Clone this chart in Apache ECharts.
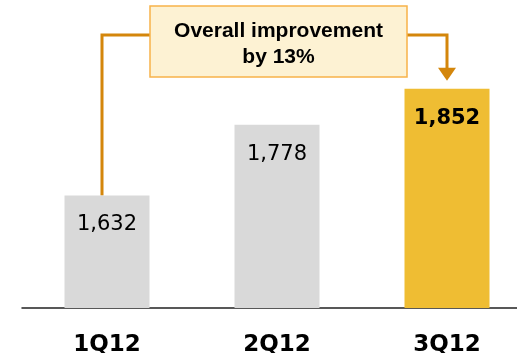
<!DOCTYPE html>
<html><head><meta charset="utf-8">
<script src="https://cdn.jsdelivr.net/npm/echarts@6/dist/echarts.min.js"></script>
<style>html,body{margin:0;padding:0;background:#fff}#c{width:517px;height:353px}</style>
</head><body><div id="c"></div>
<script>
const categories = ['1Q12', '2Q12', '3Q12'];
const values = [1632, 1778, 1852];
const barColors = ['#D9D9D9', '#D9D9D9', '#EFBD33'];
const boldLabel = [false, false, true];
const note = ['Overall improvement', 'by 13%'];

const chart = echarts.init(document.getElementById('c'));
const option = {
  animation: false,
  grid: { left: 22, width: 510, top: 17, bottom: 45, containLabel: false, outerBoundsMode: 'none' },
  xAxis: {
    type: 'category', data: categories,
    axisLine: { lineStyle: { color: '#222', width: 1.5 } },
    axisTick: { show: false },
    axisLabel: { margin: 26, fontFamily: 'DejaVu Sans', fontWeight: 'bold', fontSize: 23, color: '#000' }
  },
  yAxis: { type: 'value', min: 1400, max: 2000, show: false, splitLine: { show: false } },
  series: [{
    type: 'bar', barWidth: 85,
    data: values.map((v, i) => ({
      value: v,
      itemStyle: { color: barColors[i] },
      label: {
        show: true, position: 'insideTop', distance: 19,
        formatter: p => p.value.toLocaleString('en-US'),
        fontFamily: 'DejaVu Sans', fontSize: 21, color: '#000',
        fontWeight: boldLabel[i] ? 'bold' : 'normal'
      }
    }))
  }]
};
chart.setOption(option);

const p0 = chart.convertToPixel({ gridIndex: 0 }, [0, values[0]]);
const p2 = chart.convertToPixel({ gridIndex: 0 }, [2, values[2]]);
const lineColor = '#D4860B';
const boxL = 150, boxR = 407, boxT = 6, boxB = 77, lineY = 35;
chart.setOption({
  graphic: [
    { type: 'polyline', shape: { points: [[boxL, lineY], [p0[0] - 5, lineY], [p0[0] - 5, p0[1]]] },
      style: { stroke: lineColor, lineWidth: 3, fill: null } },
    { type: 'polyline', shape: { points: [[boxR, lineY], [p2[0], lineY], [p2[0], p2[1] - 20]] },
      style: { stroke: lineColor, lineWidth: 3, fill: null } },
    { type: 'polygon', shape: { points: [[p2[0] - 9, p2[1] - 21], [p2[0] + 9, p2[1] - 21], [p2[0], p2[1] - 8]] },
      style: { fill: lineColor } },
    { type: 'rect', shape: { x: boxL, y: boxT, width: boxR - boxL, height: boxB - boxT },
      style: { fill: '#FDF2D3', stroke: '#F7B34A', lineWidth: 1.5 } },
    { type: 'text', x: (boxL + boxR) / 2, y: 31,
      style: { text: note[0], fill: '#000', font: 'bold 21px "Liberation Sans", Arial', align: 'center', verticalAlign: 'middle' } },
    { type: 'text', x: (boxL + boxR) / 2, y: 57,
      style: { text: note[1], fill: '#000', font: 'bold 21px "Liberation Sans", Arial', align: 'center', verticalAlign: 'middle' } }
  ]
});
</script></body></html>
